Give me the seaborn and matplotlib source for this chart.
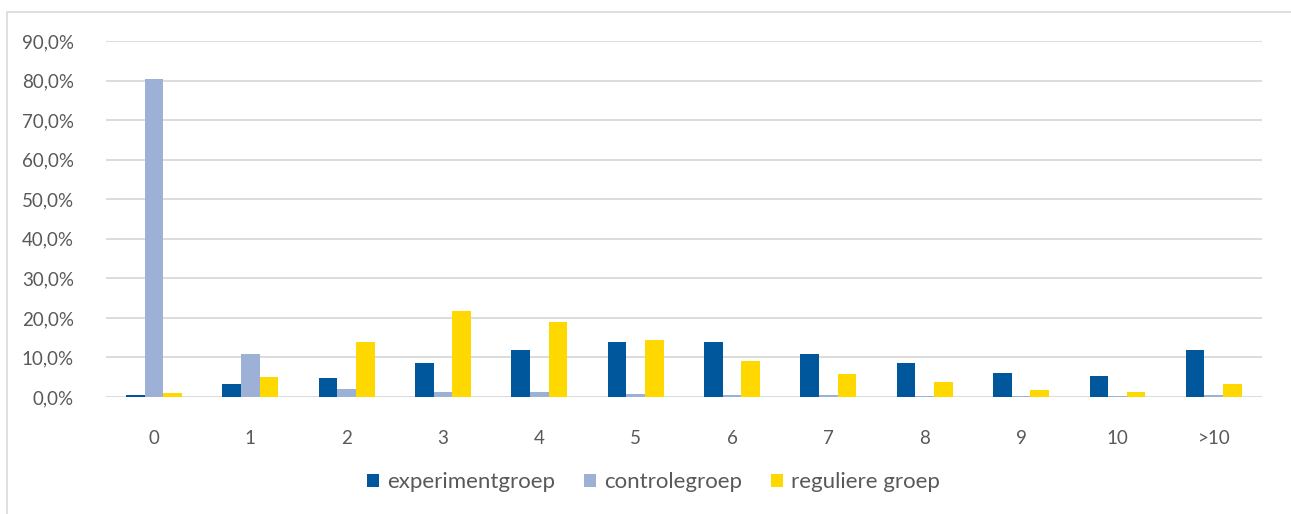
import matplotlib
matplotlib.use("Agg")
import matplotlib.pyplot as plt
import seaborn as sns
import pandas as pd
from matplotlib.ticker import FuncFormatter, MultipleLocator
from matplotlib.patches import Rectangle

categories = ["0", "1", "2", "3", "4", "5", "6", "7", "8", "9", "10", ">10"]
experimentgroep = [0.6, 3.3, 4.8, 8.6, 12.0, 13.8, 13.8, 11.0, 8.5, 6.1, 5.3, 11.9]
controlegroep = [80.5, 10.9, 2.0, 1.3, 1.2, 0.7, 0.4, 0.4, 0.2, 0.2, 0.2, 0.6]
reguliere_groep = [1.0, 5.0, 13.9, 21.7, 19.0, 14.3, 9.1, 5.9, 3.7, 1.8, 1.3, 3.2]
series_names = ["experimentgroep", "controlegroep", "reguliere groep"]
colors = ["#00579C", "#9DB1D7", "#FFD800"]

rows = []
for name, vals in zip(series_names, [experimentgroep, controlegroep, reguliere_groep]):
    for c, v in zip(categories, vals):
        rows.append({"cat": c, "groep": name, "val": v / 100})
df = pd.DataFrame(rows)

sns.set_style("white")
plt.rcParams["font.family"] = ["Lato", "DejaVu Sans"]
text_color = "#595959"

fig = plt.figure(figsize=(12.91, 5.14), dpi=100)
ax = fig.add_axes([0.082, 0.2276, 0.8955, 0.6924])

sns.barplot(data=df, x="cat", y="val", hue="groep", order=categories,
            hue_order=series_names, palette=colors, width=0.58, gap=0,
            saturation=1, ax=ax, legend=False, edgecolor="none")

ax.set_ylim(0, 0.9)
ax.set_xlim(-0.5, len(categories) - 0.5)
ax.yaxis.set_major_locator(MultipleLocator(0.1))
ax.yaxis.set_major_formatter(FuncFormatter(lambda v, p: f"{v*100:.1f}%".replace(".", ",")))
ax.grid(axis="y", color="#D9D9D9", linewidth=1.3)
ax.set_axisbelow(True)
for s in ax.spines.values():
    s.set_visible(False)
ax.tick_params(axis="both", length=0, labelsize=13.5, colors=text_color)
ax.tick_params(axis="y", pad=23)
ax.tick_params(axis="x", pad=24)
ax.set_xlabel("")
ax.set_ylabel("")

handles = [Rectangle((0, 0), 1, 1, facecolor=c, edgecolor="none") for c in colors]
leg = fig.legend(handles, series_names, loc="center", bbox_to_anchor=(0.506, 0.062),
                 ncol=3, frameon=False, fontsize=16, handlelength=0.55, handleheight=0.55,
                 handletextpad=0.35, columnspacing=1.3)
for t in leg.get_texts():
    t.set_color(text_color)

# chart border
fig.add_artist(Rectangle((7 / 1291, -0.01), 1.02, (514 - 12) / 514 + 0.01,
                         transform=fig.transFigure, fill=False,
                         edgecolor="#D9D9D9", linewidth=1.2))

fig.savefig("out.png", dpi=100, facecolor="white")
